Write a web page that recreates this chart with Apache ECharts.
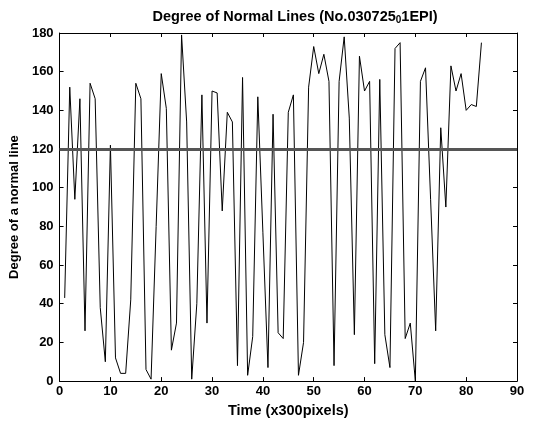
<!DOCTYPE html>
<html>
<head>
<meta charset="utf-8">
<script src="https://cdn.jsdelivr.net/npm/echarts@6/dist/echarts.min.js"></script>
<style>html,body{margin:0;padding:0;background:#fff}#c{width:536px;height:423px}</style>
</head>
<body>
<div id="c"></div>
<script>
var times = [1,2,3,4,5,6,7,8,9,10,11,12,13,14,15,16,17,18,19,20,21,22,23,24,25,26,27,28,29,30,
  31,32,33,34,35,36,37,38,39,40,41,42,43,44,45,46,47,48,49,50,51,52,53,54,55,56,57,58,59,60,
  61,62,63,64,65,66,67,68,69,70,71,72,73,74,75,76,77,78,79,80,81,82,83];
var degrees = [43,152,94,146,26,154,146,38,10,122,
  12,4,4,42,154,146,6,1,80,159,
  141,16,30,179,134,1,40,148,30,150,
  149,88,139,134,8,157,3,23,147,77,
  7,138,25,22,139,148,3,20,152,173,
  159,169,155,8,155,178,136,24,168,150,
  155,9,156,24,7,172,175,22,30,0,
  155,162,94,26,131,90,163,150,159,140,
  143,142,175];
var referenceLevel = 120;
var xTicks = [0,10,20,30,40,50,60,70,80,90];
var yTicks = [0,20,40,60,80,100,120,140,160,180];

var font = '"Liberation Sans", Arial, sans-serif';
var chart = echarts.init(document.getElementById('c'), null, {renderer: 'canvas'});
var pts = times.map(function (t, i) { return [t, degrees[i]]; });
var axisCommon = {
  type: 'value',
  axisLine: {show: true, onZero: false, lineStyle: {color: '#000', width: 1}},
  axisTick: {show: true, inside: true, length: 4, lineStyle: {color: '#000'}},
  splitLine: {show: false}
};
chart.setOption({
  animation: false,
  backgroundColor: '#fff',
  title: {
    text: 'Degree of Normal Lines (No.030725{sub|0}1EPI)',
    left: 290, textAlign: 'center', top: 3,
    textStyle: {
      fontFamily: font, fontWeight: 'bold', fontSize: 14.5, color: '#000',
      rich: {sub: {fontFamily: font, fontWeight: 'bold', fontSize: 10, color: '#000', verticalAlign: 'bottom', padding: [7, 0, 0, 0]}}
    }
  },
  grid: {left: 54, right: 19, top: 33, bottom: 38},
  xAxis: [
    Object.assign({}, axisCommon, {
      min: xTicks[0], max: xTicks[xTicks.length - 1], interval: 10, position: 'bottom',
      name: 'Time (x300pixels)', nameLocation: 'middle', nameGap: 19,
      nameTextStyle: {fontFamily: font, fontWeight: 'bold', fontSize: 14.5, color: '#000'},
      axisLabel: {fontFamily: font, fontWeight: 'bold', fontSize: 13, color: '#000', margin: 4}
    }),
    Object.assign({}, axisCommon, {
      min: xTicks[0], max: xTicks[xTicks.length - 1], interval: 10, position: 'top',
      axisLabel: {show: false}
    })
  ],
  yAxis: [
    Object.assign({}, axisCommon, {
      min: yTicks[0], max: yTicks[yTicks.length - 1], interval: 20, position: 'left',
      name: 'Degree of a normal line', nameLocation: 'middle', nameGap: 31,
      nameTextStyle: {fontFamily: font, fontWeight: 'bold', fontSize: 13, color: '#000'},
      axisLabel: {fontFamily: font, fontWeight: 'bold', fontSize: 13, color: '#000', margin: 6}
    }),
    Object.assign({}, axisCommon, {
      min: yTicks[0], max: yTicks[yTicks.length - 1], interval: 20, position: 'right',
      axisLabel: {show: false}
    })
  ],
  series: [
    {
      type: 'line', xAxisIndex: 0, yAxisIndex: 0,
      data: pts, showSymbol: false, symbol: 'none',
      lineStyle: {color: '#000', width: 1},
      z: 3,
      markLine: {
        silent: true, symbol: ['none', 'none'],
        label: {show: false},
        lineStyle: {color: '#555', width: 3, type: 'solid'},
        data: [{yAxis: referenceLevel}],
        z: 4
      }
    }
  ]
});
</script>
</body>
</html>
